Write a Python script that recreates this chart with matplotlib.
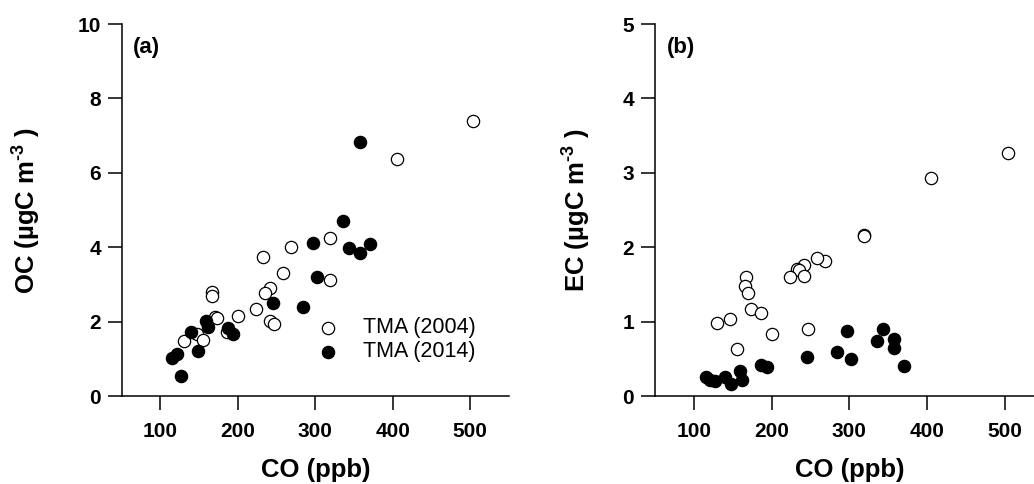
import matplotlib
matplotlib.use("Agg")
import matplotlib.pyplot as plt

# data
co_2004 = [504, 405, 319, 319, 269, 258, 242, 233, 235, 242, 224,
           167, 166, 170, 173, 186, 200, 247, 130, 147, 155]
oc_2004 = [7.40, 6.37, 4.26, 3.12, 4.00, 3.32, 2.91, 3.75, 2.76, 2.02, 2.33,
           2.79, 2.70, 2.13, 2.11, 1.71, 2.15, 1.93, 1.48, 1.67, 1.51]
ec_2004 = [3.27, 2.93, 2.17, 2.15, 1.81, 1.86, 1.76, 1.71, 1.70, 1.61, 1.60,
           1.60, 1.48, 1.38, 1.17, 1.11, 0.83, 0.90, 0.98, 1.04, 0.63]

co_2014 = [357, 336, 297, 370, 344, 358, 302, 245, 284,
           159, 162, 187, 194, 140, 148, 121, 115, 127]
oc_2014 = [6.84, 4.70, 4.10, 4.09, 3.97, 3.84, 3.21, 2.49, 2.40,
           2.02, 1.85, 1.82, 1.66, 1.71, 1.22, 1.13, 1.01, 0.54]
ec_2014 = [0.76, 0.74, 0.87, 0.41, 0.90, 0.65, 0.50, 0.53, 0.59,
           0.33, 0.21, 0.42, 0.39, 0.26, 0.16, 0.21, 0.26, 0.20]

x_ticks = [100, 200, 300, 400, 500]

plt.rcParams['font.family'] = ['Liberation Sans', 'DejaVu Sans']
plt.rcParams['mathtext.fontset'] = 'custom'
plt.rcParams['mathtext.rm'] = 'Liberation Sans'
plt.rcParams['mathtext.bf'] = 'Liberation Sans:bold'

fig = plt.figure(figsize=(10.34, 4.84), dpi=100)
ax1 = fig.add_axes([0.1177, 0.1818, 0.3746, 0.7686])
ax2 = fig.add_axes([0.6335, 0.1818, 0.3757, 0.7686])

panels = [
    (ax1, oc_2004, oc_2014, 10, [0, 2, 4, 6, 8, 10], 'OC', '(a)', -0.206),
    (ax2, ec_2004, ec_2014, 5, [0, 1, 2, 3, 4, 5], 'EC', '(b)', -0.163),
]

for ax, y04, y14, ymax, yticks, name, tag, lx in panels:
    ax.scatter(co_2004, y04, s=78, facecolor='white', edgecolor='black',
               linewidths=0.9, label='TMA (2004)', zorder=3)
    ax.scatter(co_2014, y14, s=78, facecolor='black', edgecolor='black',
               linewidths=0.9, label='TMA (2014)', zorder=4)
    ax.set_xlim(50, 550)
    ax.set_ylim(0, ymax)
    ax.set_xticks(x_ticks)
    ax.set_yticks(yticks)
    for s in ['top', 'right']:
        ax.spines[s].set_visible(False)
    for s in ['left', 'bottom']:
        ax.spines[s].set_linewidth(1.1)
    ax.tick_params(axis='both', direction='out', length=10, width=1.1,
                   labelsize=15)
    ax.tick_params(axis='x', pad=9)
    ax.tick_params(axis='y', pad=5)
    for lab in ax.get_xticklabels() + ax.get_yticklabels():
        lab.set_fontweight('bold')
    ax.set_xlabel('CO (ppb)', fontsize=18.5, fontweight='bold')
    ax.xaxis.set_label_coords(0.5, -0.167)
    # hyphen (not minus) in the superscript, as in the original
    ax.set_ylabel(name + ' (µgC m$^{\\mathbf{\u2010 3}}$ )', fontsize=18.5,
                  fontweight='bold')
    ax.yaxis.set_label_coords(lx, 0.5)
    ax.text(0.03, 0.965, tag, transform=ax.transAxes, fontsize=16,
            fontweight='bold', va='top', ha='left')

ax1.legend(loc='center left', bbox_to_anchor=(0.456, 0.151), frameon=False,
           fontsize=15.5, handlelength=2.0, handletextpad=0.6,
           labelspacing=0.15, borderaxespad=0, scatterpoints=1)

fig.savefig('out.png', dpi=100)
